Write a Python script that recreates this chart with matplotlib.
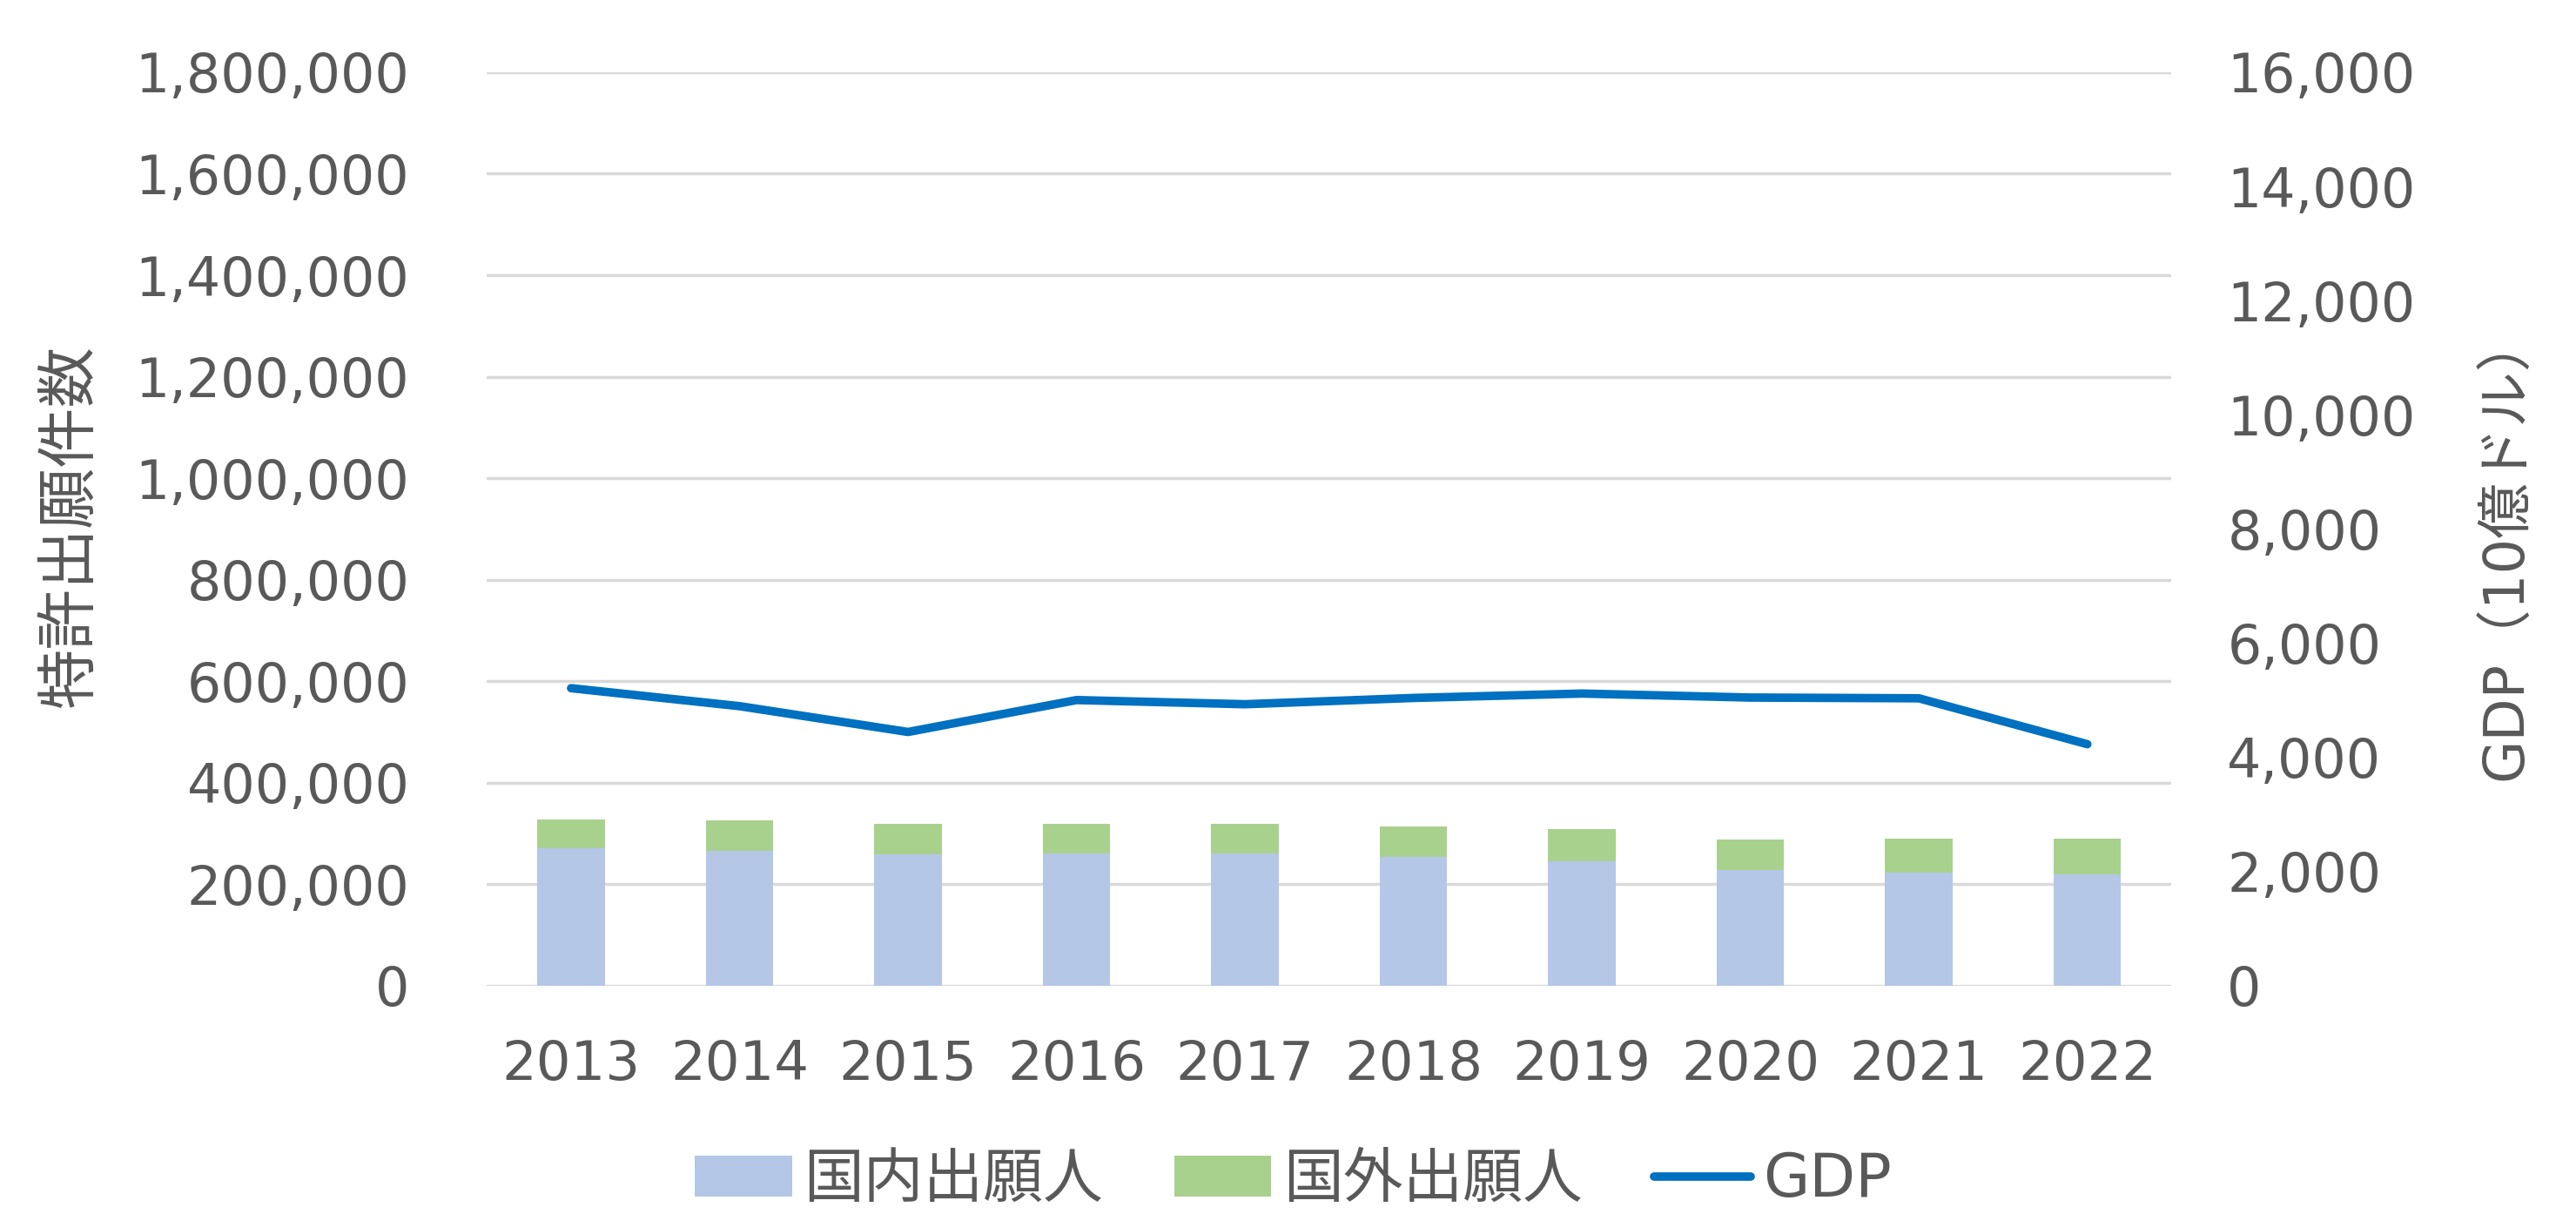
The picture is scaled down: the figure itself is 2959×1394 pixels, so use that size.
import matplotlib.pyplot as plt
from matplotlib.ticker import FuncFormatter, MultipleLocator

plt.rcParams['font.family'] = ['DejaVu Sans', 'Noto Sans CJK JP']

years = ['2013', '2014', '2015', '2016', '2017', '2018', '2019', '2020', '2021', '2022']
domestic = [271731, 265959, 258839, 260244, 260290, 253630, 245372, 227348, 222452, 218813]
foreign = [56705, 60030, 59882, 58137, 58189, 59937, 62597, 61124, 66748, 70717]
gdp = [5212, 4897, 4445, 5004, 4931, 5041, 5118, 5048, 5035, 4231]

text_color = '#595959'
blue_bar = '#B4C7E7'
green_bar = '#A9D18E'
line_color = '#0070C0'

fig = plt.figure(figsize=(29.59, 13.94), dpi=100)
ax1 = fig.add_axes([0.189, 0.188, 0.654, 0.7525])
ax2 = ax1.twinx()

x = list(range(len(years)))
b1 = ax1.bar(x, domestic, width=0.4, color=blue_bar, label='国内出願人', zorder=2)
b2 = ax1.bar(x, foreign, width=0.4, bottom=domestic, color=green_bar, label='国外出願人', zorder=2)
l1, = ax2.plot(x, gdp, color=line_color, linewidth=7, solid_capstyle='round',
               solid_joinstyle='round', label='GDP')

comma = FuncFormatter(lambda v, p: f'{int(v):,}')

ax1.set_xlim(-0.5, len(years) - 0.5)
ax1.set_ylim(0, 1800000)
ax1.yaxis.set_major_locator(MultipleLocator(200000))
ax1.yaxis.set_major_formatter(comma)
ax1.set_axisbelow(True)
ax1.grid(axis='y', color='#D9D9D9', linewidth=2.5)
ax1.set_xticks(x)
ax1.set_xticklabels(years)

ax2.set_ylim(0, 16000)
ax2.yaxis.set_major_locator(MultipleLocator(2000))
ax2.yaxis.set_major_formatter(comma)

for ax in (ax1, ax2):
    for s in ax.spines.values():
        s.set_visible(False)

ax1.tick_params(axis='y', length=0, labelsize=44.5, labelcolor=text_color, pad=64)
ax1.tick_params(axis='x', length=0, labelsize=45, labelcolor=text_color, pad=44)
ax2.tick_params(axis='y', length=0, labelsize=44.5, labelcolor=text_color, pad=46)

fig.text(0.027, 0.566, '特許出願件数', rotation=90, ha='center', va='center',
         fontsize=50, color=text_color)
fig.text(0.9727, 0.55, 'GDP（10億ドル）', rotation=90, ha='center', va='center',
         fontsize=46, color=text_color)

fig.legend(handles=[b1, b2, l1], loc='center', bbox_to_anchor=(0.502, 0.028),
           ncol=3, frameon=False, fontsize=49.5, labelcolor=text_color,
           handlelength=1.62, handleheight=0.66, handletextpad=0.2, columnspacing=1.19)

fig.savefig('out.png', dpi=100)
